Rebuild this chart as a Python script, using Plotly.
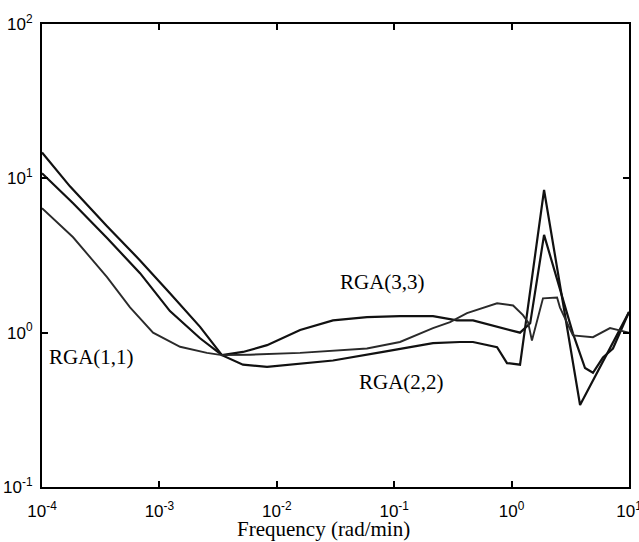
import plotly.graph_objects as go

# Relative gain array diagonal elements vs. frequency (rad/min)
freq_22 = [1e-4, 1.73e-4, 3.58e-4, 6.84e-4, 1.23e-3, 2.22e-3, 3.41e-3, 5.15e-3, 8.26e-3,
           3.01e-2, 8.04e-2, 0.214, 0.363, 0.469, 0.752, 0.914, 1.18, 1.89, 3.83, 10.0]
rga_22 = [14.7, 8.87, 4.89, 2.94, 1.80, 1.09, 0.715, 0.62, 0.60,
          0.66, 0.75, 0.855, 0.87, 0.87, 0.805, 0.635, 0.62, 8.4, 0.34, 1.36]

freq_33 = [1e-4, 1.84e-4, 3.58e-4, 6.84e-4, 1.23e-3, 2.22e-3, 3.41e-3, 5.15e-3,
           8.26e-3, 1.58e-2, 3.01e-2, 5.86e-2, 0.112, 0.214, 0.343, 0.469, 1.18, 1.44,
           1.89, 3.33, 4.22, 4.93, 6.0, 7.3, 10.0]
rga_33 = [10.8, 6.9, 4.1, 2.43, 1.38, 0.92, 0.715, 0.75,
          0.83, 1.04, 1.2, 1.26, 1.28, 1.28, 1.2, 1.2, 1.0, 1.15,
          4.3, 0.99, 0.59, 0.55, 0.69, 0.79, 1.36]

freq_11 = [1e-4, 1.84e-4, 3.58e-4, 5.62e-4, 8.83e-4, 1.50e-3, 2.54e-3, 3.41e-3, 5.92e-3,
           1.58e-2, 5.86e-2, 0.112, 0.214, 0.299, 0.417, 0.752, 1.03, 1.25, 1.38, 1.49,
           1.85, 2.44, 2.58, 3.33, 4.93, 6.89, 10.0]
rga_11 = [6.4, 4.15, 2.29, 1.46, 1.0, 0.81, 0.74, 0.715, 0.72,
          0.74, 0.79, 0.87, 1.07, 1.17, 1.34, 1.55, 1.5, 1.30, 1.17, 0.89,
          1.67, 1.69, 1.46, 0.96, 0.935, 1.07, 1.0]

x_ticks = [1e-4, 1e-3, 1e-2, 1e-1, 1e0, 1e1]
x_tick_text = ["10<sup>-4</sup>", "10<sup>-3</sup>", "10<sup>-2</sup>",
               "10<sup>-1</sup>", "10<sup>0</sup>", "10<sup>1</sup>"]
y_ticks = [1e-1, 1e0, 1e1, 1e2]
y_tick_text = ["10<sup>-1</sup>", "10<sup>0</sup>", "10<sup>1</sup>", "10<sup>2</sup>"]

fig = go.Figure()
fig.add_trace(go.Scatter(x=freq_22, y=rga_22, mode="lines", name="RGA(2,2)",
                         line=dict(color="#111111", width=2.2)))
fig.add_trace(go.Scatter(x=freq_33, y=rga_33, mode="lines", name="RGA(3,3)",
                         line=dict(color="#111111", width=2.2)))
fig.add_trace(go.Scatter(x=freq_11, y=rga_11, mode="lines", name="RGA(1,1)",
                         line=dict(color="#2a2a2a", width=1.9)))

serif = dict(family="Liberation Serif, Times New Roman, serif", size=21, color="black")

labels = [("RGA(1,1)", -3.957, -0.159),
          ("RGA(3,3)", -1.479, 0.327),
          ("RGA(2,2)", -1.317, -0.320)]
for text, lx, ly in labels:
    fig.add_annotation(x=lx, y=ly, xref="x", yref="y", text=text, showarrow=False,
                       xanchor="left", yanchor="middle", font=serif)

fig.add_annotation(x=0.48, y=-0.091, xref="paper", yref="paper",
                   text="Frequency (rad/min)", showarrow=False,
                   xanchor="center", yanchor="middle", font=serif)

axis_common = dict(showline=True, linecolor="black", linewidth=2, mirror="ticks",
                   ticks="inside", ticklen=6, tickwidth=1.5, tickcolor="black",
                   showgrid=False, zeroline=False, ticklabeloverflow="allow",
                   automargin=False,
                   tickfont=dict(family="Liberation Sans, Arial, sans-serif",
                                 size=17, color="black"))

fig.update_xaxes(type="log", range=[-4, 1], tickmode="array", tickvals=x_ticks,
                 ticktext=x_tick_text, ticklabelstandoff=8, **axis_common)
fig.update_yaxes(type="log", range=[-1, 2], tickmode="array", tickvals=y_ticks,
                 ticktext=y_tick_text, ticklabelstandoff=4, **axis_common)

fig.update_layout(width=639, height=542, showlegend=False,
                  margin=dict(l=42, r=10, t=24, b=55, autoexpand=False),
                  paper_bgcolor="white", plot_bgcolor="white")

fig.write_html("out.html")
